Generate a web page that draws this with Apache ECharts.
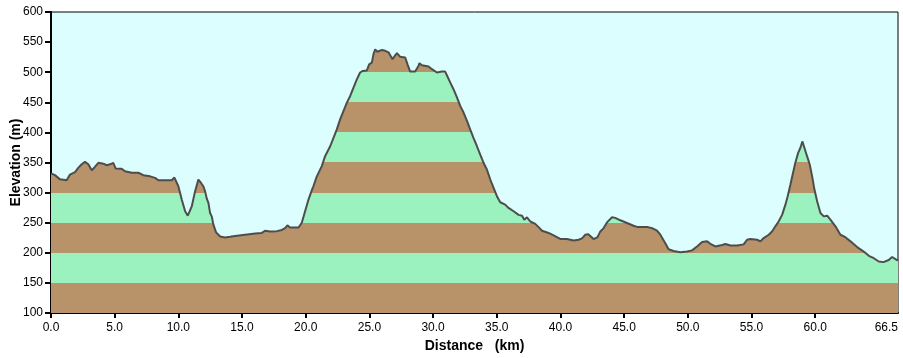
<!DOCTYPE html>
<html><head><meta charset="utf-8">
<script src="https://cdn.jsdelivr.net/npm/echarts@6/dist/echarts.min.js"></script>
<style>html,body{margin:0;padding:0;background:#fff}#c{width:903px;height:358px}</style>
</head><body><div id="c"></div>
<script>
const distanceKm = [0,0.31,0.71,1.23,1.49,1.89,2.14,2.41,2.67,2.93,3.20,3.46,3.72,4.11,4.38,4.63,4.89,5.08,5.55,5.81,6.34,6.86,7.25,7.78,8.17,8.43,9.48,9.69,9.82,10.00,10.27,10.53,10.74,10.84,11.05,11.31,11.57,11.78,11.96,12.10,12.23,12.36,12.49,12.62,12.75,12.96,13.28,13.67,14.06,14.45,15.24,16.03,16.55,16.81,17.20,17.73,18.12,18.38,18.56,18.77,19.43,19.69,19.95,20.21,20.48,20.60,20.87,21.26,21.52,21.92,22.18,22.44,22.70,22.96,23.23,23.49,23.75,24.01,24.27,24.48,24.80,24.98,25.19,25.32,25.45,25.63,25.98,26.24,26.50,26.81,27.02,27.16,27.42,27.81,27.99,28.20,28.59,28.85,28.93,29.12,29.64,29.91,30.30,30.69,30.95,31.08,31.34,31.60,31.87,32.13,32.39,32.66,32.91,33.17,33.44,33.70,33.96,34.23,34.49,34.75,35.01,35.27,35.66,35.92,36.32,36.71,36.98,37.16,37.37,37.63,38.02,38.36,38.55,39.07,39.46,39.98,40.51,41.03,41.42,41.69,41.95,42.16,42.34,42.60,42.91,43.13,43.39,43.65,44.05,44.30,44.70,45.22,45.74,46.01,46.80,47.19,47.58,47.84,48.23,48.49,48.88,49.41,49.94,50.33,50.72,51.12,51.51,51.77,52.16,52.69,52.95,53.34,53.87,54.38,54.65,54.91,55.44,55.70,55.95,56.35,56.61,56.87,57.13,57.40,57.66,57.84,58.05,58.26,58.44,58.66,58.84,58.99,59.15,59.36,59.57,59.76,59.94,60.15,60.41,60.67,60.94,61.19,61.59,61.98,62.37,62.77,63.29,63.81,64.21,64.60,64.99,65.36,65.77,66.04,66.30,66.5];
const elevationM = [332,329,322,320.5,330,334,341,347,351,347,337,343,349.5,348,345.5,347,349.5,340,339.5,335.5,333,333,329,327,324.5,320.5,320.5,325,324,310.5,288,269,261.7,261.7,277,302,321.7,316,310.5,302,290,283,266,260.5,246.7,234,227,225.5,226.7,228,230,232,233,236.7,235.5,236,238,241,245.5,242,242,250,269,288,304,310.5,327,344,360.5,377,391,405,421.7,435.5,449.5,460.5,474.5,488,499.5,502,503,513,516,530,538,534,537,535.5,533,521.7,528,531.7,525.5,524.5,513,501,501,510.5,515,511.7,509.5,505,499.5,501,501,495,483,471.7,458,444,433,419,405,391,377,363,349.5,338,321.7,308,294,284,280,274.5,269,263,261.7,255,259,252,248,241,236.7,233,229,223,222.8,220.5,221.7,224,230,231,228,222.8,226,235.5,241,250.5,259,258,254,249.5,245,243,243,241,236.7,230,216,206,203,201,202,204,210.5,218,219,215,210.5,213,214.5,212,212,214,221.7,222.8,221.7,219,224.5,230,235.5,244,252,263,280,294,313,333,349.5,366,374.5,385,374.5,360.5,346.7,327,305,285.5,266,260.5,261.7,255,244,230,226,219,209.5,202,195,191,185.5,184.5,188,193,189.5,187];
const xTickValues = [0,5,10,15,20,25,30,35,40,45,50,55,60];
const xLabelValues = [0,5,10,15,20,25,30,35,40,45,50,55,60,66.5];
const bandEdges = [100,150,200,250,300,350,400,450,500,550,600];
const bandColors = ['#B89268','#9CF2BE'];

const chart = echarts.init(document.getElementById('c'));
const font = '"Liberation Sans", Arial, sans-serif';
const option = {
  animation: false,
  backgroundColor: '#ffffff',
  grid: {left: 51, right: 5, top: 12, bottom: 45, containLabel: false, outerBoundsMode: 'none', show: true, backgroundColor: '#DCFEFE', borderColor: '#000', borderWidth: 1},
  xAxis: {
    type: 'value', min: 0, max: 66.5, interval: 5,
    name: 'Distance   (km)', nameLocation: 'middle', nameGap: 26, nameMoveOverlap: false,
    nameTextStyle: {fontFamily: font, fontWeight: 'bold', fontSize: 14, color: '#000'},
    axisLine: {show: true, lineStyle: {color: '#000', width: 2}},
    axisTick: {show: true, length: 5, lineStyle: {color: '#000', width: 2}, customValues: xTickValues},
    axisLabel: {fontFamily: font, fontSize: 12, color: '#000', margin: 9, customValues: xLabelValues, alignMaxLabel: 'right', formatter: v => v.toFixed(1)},
    splitLine: {show: false}
  },
  yAxis: {
    type: 'value', min: 100, max: 600, interval: 50,
    name: 'Elevation (m)', nameLocation: 'middle', nameGap: 28, nameRotate: 90, nameMoveOverlap: false,
    nameTextStyle: {fontFamily: font, fontWeight: 'bold', fontSize: 14, color: '#000'},
    axisLine: {show: true, lineStyle: {color: '#000', width: 2}},
    axisTick: {show: true, length: 6, lineStyle: {color: '#000', width: 2}},
    axisLabel: {fontFamily: font, fontSize: 12, color: '#000', margin: 8},
    splitLine: {show: false}
  },
  series: [{
    type: 'line', showSymbol: false, smooth: false,
    data: distanceKm.map((d, i) => [d, elevationM[i]]),
    lineStyle: {color: '#4D4D4D', width: 2},
    areaStyle: {origin: 'start', color: bandColors[0], opacity: 1}
  }]
};
chart.setOption(option);
const yTop = chart.convertToPixel({yAxisIndex: 0}, bandEdges[bandEdges.length - 1]);
const yBot = chart.convertToPixel({yAxisIndex: 0}, bandEdges[0]);
const stops = [];
for (let i = bandEdges.length - 2; i >= 0; i--) {
  const c = bandColors[i % 2];
  const o1 = (chart.convertToPixel({yAxisIndex: 0}, bandEdges[i + 1]) - yTop) / (yBot - yTop);
  const o0 = (chart.convertToPixel({yAxisIndex: 0}, bandEdges[i]) - yTop) / (yBot - yTop);
  stops.push({offset: o1, color: c}, {offset: o0, color: c});
}
chart.setOption({series: [{areaStyle: {color: new echarts.graphic.LinearGradient(0, yTop, 0, yBot, stops, true)}}]});
</script>
</body></html>
